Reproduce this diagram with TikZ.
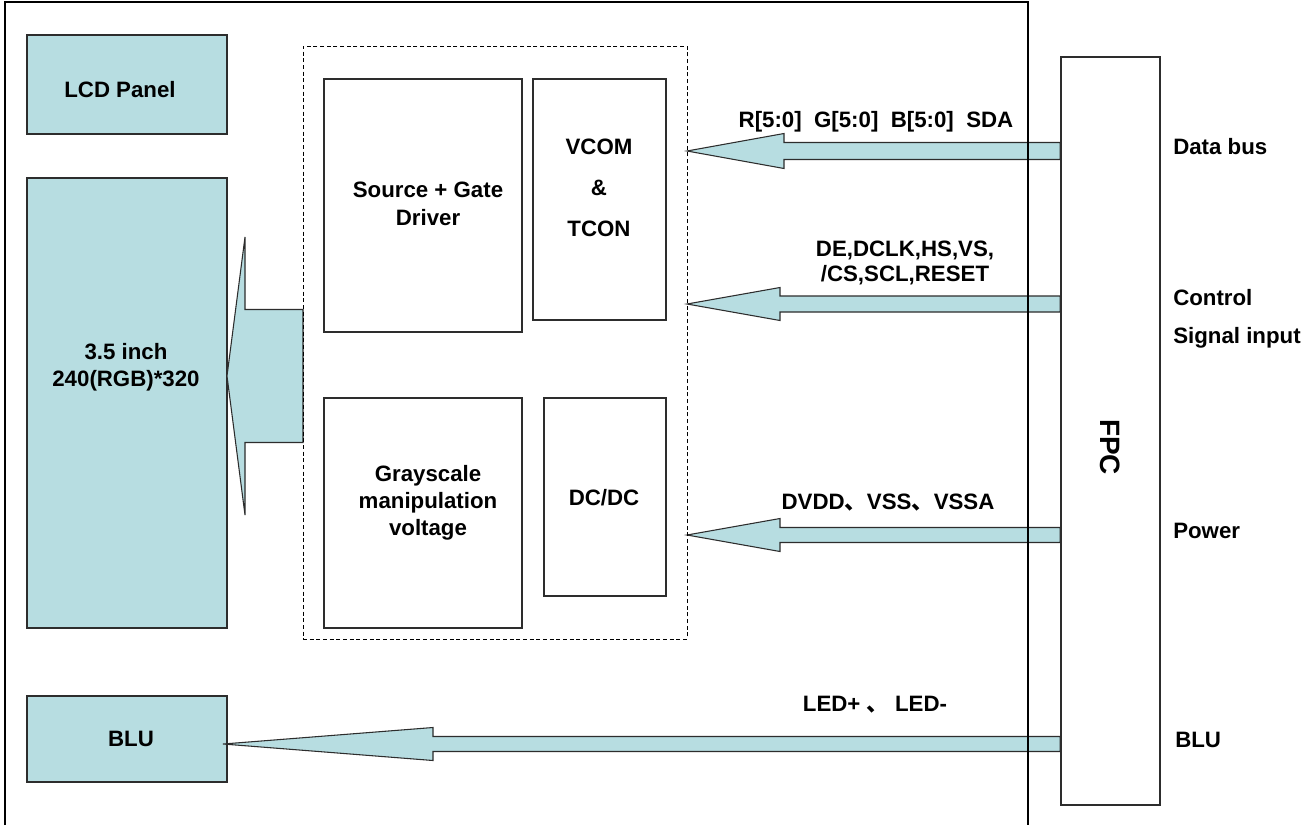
\documentclass[tikz,border=0pt]{standalone}
\usepackage{fontspec}
\setmainfont{Liberation Sans}
\newfontfamily\cjkfont{Noto Sans CJK SC}
\usetikzlibrary{calc,fit}
\definecolor{bluefill}{RGB}{183,221,225}
\definecolor{edgegray}{RGB}{45,45,45}
\tikzset{
  lbl/.style={font=\fontsize{16.7}{20}\selectfont\bfseries, inner sep=0pt, align=center},
  bluebox/.style={draw=edgegray, fill=bluefill, line width=1.1pt, inner sep=0pt},
  whitebox/.style={draw=edgegray, fill=white, line width=1.1pt, inner sep=0pt},
  grpbox/.style={draw=black, dash pattern=on 3pt off 2pt, line width=0.7pt, inner sep=0pt},
  blockarrow/.style={draw=edgegray, fill=bluefill, line width=0.8pt, line join=miter},
  frameline/.style={draw=black, line width=0.8pt},
}
% #1 tail, #2 tip, #3 shaft half-width, #4 head half-width, #5 head length (all in px)
\newcommand{\leftblockarrow}[5]{%
  \draw[blockarrow] let \p1=(#1), \p2=(#2) in
    ({\x1},{\y2+#3*0.75pt}) -- ({\x2+#5*0.75pt},{\y2+#3*0.75pt}) --
    ({\x2+#5*0.75pt},{\y2+#4*0.75pt}) -- (\x2,\y2) --
    ({\x2+#5*0.75pt},{\y2-#4*0.75pt}) -- ({\x2+#5*0.75pt},{\y2-#3*0.75pt}) --
    ({\x1},{\y2-#3*0.75pt}) -- cycle;}
\begin{document}
\begin{tikzpicture}[x=0.75pt,y=-0.75pt]
\useasboundingbox (0,0) rectangle (1310,825);
\fill[white] (0,0) rectangle (1310,825);

% FPC connector
\node[whitebox, fit={(1061,57) (1160,805)}] (fpc) {};

% left boxes
\node[bluebox, fit={(27,35) (227,134)}] (lcd) {};
\node[bluebox, fit={(27,178) (227,628)}] (panel) {};
\node[bluebox, fit={(27,696) (227,782)}] (blu) {};

% group box (dashed) coordinates
\coordinate (grpNW) at (303,46);
\coordinate (grpSE) at (687,639);

% tips of arrows
\coordinate (dbtip) at (687,151);
\coordinate (cttip) at (687,304);
\coordinate (pwtip) at (687,535);
\coordinate (blutip) at (223,744);
\coordinate (bigtip) at (227,376);
\coordinate (bigtail) at (303,376);

% arrows
\leftblockarrow{fpc.west |- dbtip}{dbtip}{8.5}{17.5}{97}
\leftblockarrow{fpc.west |- cttip}{cttip}{8}{16.5}{93}
\leftblockarrow{fpc.west |- pwtip}{pwtip}{7.5}{16.5}{93}
\leftblockarrow{fpc.west |- blutip}{blutip}{7.5}{16.5}{210}
\leftblockarrow{bigtail}{bigtip}{66.5}{139}{18}

% group box
\node[grpbox, fit=(grpNW) (grpSE)] (grp) {};

% inner boxes
\node[whitebox, fit={(324,79) (522,332)}] (src) {};
\node[whitebox, fit={(533,79) (666,320)}] (vcom) {};
\node[whitebox, fit={(324,398) (522,628)}] (gray) {};
\node[whitebox, fit={(544,398) (666,596)}] (dcdc) {};

% texts in boxes
\node[lbl] (lcdtxt) at (120,90) {LCD Panel};
\node[lbl, font=\fontsize{16.7}{20.25}\selectfont\bfseries] (paneltxt) at (126,367) {3.5 inch\\240(RGB)*320};
\node[lbl] (blutxt) at (131,739) {BLU};
\node[lbl, font=\fontsize{16.7}{21}\selectfont\bfseries] (srctxt) at (428,204) {Source + Gate\\Driver};
\node[lbl, font=\fontsize{16.7}{30.75}\selectfont\bfseries] (vcomtxt) at (599,188) {VCOM\\\&\\TCON};
\node[lbl, font=\fontsize{16.7}{20.25}\selectfont\bfseries] (graytxt) at (428,503) {Grayscale\\manipulation\\voltage};
\node[lbl] (dcdctxt) at (604,498) {DC/DC};

% arrow labels
\node[lbl] (dblbl) at (876,122) {R[5:0]\ \ G[5:0]\ \ B[5:0]\ \ SDA};
\node[lbl, font=\fontsize{16.7}{18.75}\selectfont\bfseries] (ctlbl) at (905,263) {DE,DCLK,HS,VS,\\/CS,SCL,RESET};
\node[lbl] (pwlbl) at (888,503) {DVDD{\cjkfont 、}VSS{\cjkfont 、}VSSA};
\node[lbl] (blulbl) at (875,705) {LED+ {\cjkfont 、} LED-};

% FPC label
\node[lbl, font=\fontsize{21}{24}\selectfont\bfseries, rotate=-90] (fpctxt) at (1110,447) {FPC};

% right side labels
\node[lbl, anchor=west] (rdb) at (1173,147) {Data bus};
\node[lbl, anchor=west] (rct1) at (1173,298) {Control};
\node[lbl, anchor=west] (rct2) at (1173,338) {Signal input};
\node[lbl, anchor=west] (rpw) at (1173,531) {Power};
\node[lbl, anchor=west] (rblu) at (1175,740) {BLU};

% outer frame (open at bottom)
\draw[frameline] (5,825) -- (5,2) -- (1028,2) -- (1028,825);
\end{tikzpicture}
\end{document}
